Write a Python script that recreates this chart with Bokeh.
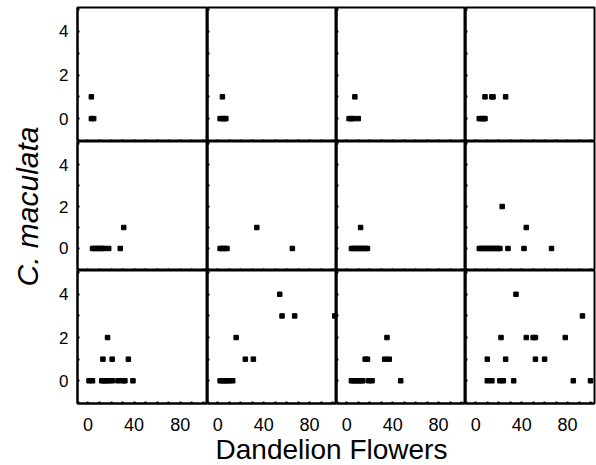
import math
from bokeh.plotting import figure
from bokeh.layouts import gridplot, row, column
from bokeh.models import FixedTicker, Label, Range1d
from bokeh.embed import file_html
from bokeh.resources import INLINE

# ---- axis ticks / labels ----
x_major_ticks = [0, 40, 80]
x_minor_ticks = [0, 10, 20, 30, 40, 50, 60, 70, 80, 90, 100]
y_major_ticks = [0, 2, 4]
y_minor_ticks = [-1, 0, 1, 2, 3, 4, 5]
x_title = "Dandelion Flowers"
y_title = "C. maculata"

# ---- data: dandelion flowers (x) vs C. maculata count (y), per panel ----
x_r0c0 = [3, 5, 3]
y_r0c0 = [0, 0, 1]
x_r0c1 = [2, 4, 6, 7, 4]
y_r0c1 = [0, 0, 0, 0, 1]
x_r0c2 = [2, 4, 6, 10, 7]
y_r0c2 = [0, 0, 0, 0, 1]
x_r0c3 = [3, 5, 7, 8, 8, 14, 15, 26]
y_r0c3 = [0, 0, 0, 0, 1, 1, 1, 1]

x_r1c0 = [4, 6, 8, 10, 12, 14, 18, 28, 31]
y_r1c0 = [0, 0, 0, 0, 0, 0, 0, 0, 1]
x_r1c1 = [2, 4, 6, 8, 65, 34]
y_r1c1 = [0, 0, 0, 0, 0, 1]
x_r1c2 = [4, 6, 8, 10, 12, 14, 16, 18, 12]
y_r1c2 = [0, 0, 0, 0, 0, 0, 0, 0, 1]
x_r1c3 = [3, 5, 7, 9, 11, 13, 15, 17, 19, 21, 28, 42, 66, 44, 23]
y_r1c3 = [0, 0, 0, 0, 0, 0, 0, 0, 0, 0, 0, 0, 0, 1, 2]

x_r2c0 = [1, 4, 12, 14, 16, 18, 21, 26, 30, 32, 39, 13, 21, 35, 17]
y_r2c0 = [0, 0, 0, 0, 0, 0, 0, 0, 0, 0, 0, 1, 1, 1, 2]
x_r2c1 = [2, 4, 6, 8, 10, 13, 24, 31, 16, 56, 67, 102, 54]
y_r2c1 = [0, 0, 0, 0, 0, 0, 1, 1, 2, 3, 3, 3, 4]
x_r2c2 = [4, 6, 8, 10, 12, 14, 19, 22, 47, 16, 18, 33, 37, 35]
y_r2c2 = [0, 0, 0, 0, 0, 0, 0, 0, 0, 1, 1, 1, 1, 2]
x_r2c3 = [10, 14, 21, 24, 33, 85, 100, 10, 26, 52, 60, 22, 44, 50, 52, 78, 93, 35]
y_r2c3 = [0, 0, 0, 0, 0, 0, 0, 1, 1, 1, 1, 2, 2, 2, 2, 2, 3, 4]

panels = [
    [(x_r0c0, y_r0c0), (x_r0c1, y_r0c1), (x_r0c2, y_r0c2), (x_r0c3, y_r0c3)],
    [(x_r1c0, y_r1c0), (x_r1c1, y_r1c1), (x_r1c2, y_r1c2), (x_r1c3, y_r1c3)],
    [(x_r2c0, y_r2c0), (x_r2c1, y_r2c1), (x_r2c2, y_r2c2), (x_r2c3, y_r2c3)],
]

FONT = "Liberation Sans"
frame_widths = [130, 129, 129, 129]
frame_heights = [134, 129, 133]
TOTAL_W, TOTAL_H = 596, 465
YLAB_W = 50
LEFT_BORDER = 27
TOP_BORDER = 7
BOTTOM_BORDER = 50
RIGHT_BORDER = 2
XLAB_TOP = 430


def style_axis(ax, show_labels, size, standoff):
    ax.axis_line_color = "black"
    ax.axis_line_width = 2
    ax.major_tick_in = 2
    ax.major_tick_out = 0
    ax.minor_tick_in = 2
    ax.minor_tick_out = 0
    ax.major_tick_line_color = "black"
    ax.minor_tick_line_color = "black"
    ax.major_tick_line_width = 2
    ax.minor_tick_line_width = 2
    ax.major_label_text_font = FONT
    ax.major_label_text_font_size = size
    ax.major_label_text_color = "black"
    ax.major_label_standoff = standoff if show_labels else 0


grid = []
for r in range(3):
    row_figs = []
    for c in range(4):
        xs, ys = panels[r][c]
        p = figure(
            frame_width=frame_widths[c],
            frame_height=frame_heights[r],
            x_range=Range1d(-9, 103.5),
            y_range=Range1d(-1.05, 5.1),
            output_backend="svg",
            toolbar_location=None,
            min_border=0,
        )
        p.min_border_left = LEFT_BORDER if c == 0 else 0
        p.min_border_right = RIGHT_BORDER if c == 3 else 0
        p.min_border_top = TOP_BORDER if r == 0 else 0
        p.min_border_bottom = BOTTOM_BORDER if r == 2 else 0
        p.xgrid.visible = False
        p.ygrid.visible = False
        p.outline_line_color = "black"
        p.outline_line_width = 2
        p.background_fill_color = "white"
        p.border_fill_color = "white"

        if r == 2:
            p.xaxis.ticker = FixedTicker(ticks=x_major_ticks,
                                         minor_ticks=[t for t in x_minor_ticks if t not in x_major_ticks])
        else:
            p.xaxis.ticker = FixedTicker(ticks=[], minor_ticks=x_minor_ticks)
        if c == 0:
            p.yaxis.ticker = FixedTicker(ticks=y_major_ticks,
                                         minor_ticks=[t for t in y_minor_ticks if t not in y_major_ticks])
        else:
            p.yaxis.ticker = FixedTicker(ticks=[], minor_ticks=y_minor_ticks)
        style_axis(p.xaxis[0], r == 2, "18px", 14)
        style_axis(p.yaxis[0], c == 0, "17px", 9)

        p.scatter(xs, ys, marker="square", size=4.5, color="black")
        row_figs.append(p)
    grid.append(row_figs)

gp = gridplot(grid, toolbar_location=None)

# y axis title panel
ylab = figure(width=YLAB_W, height=TOTAL_H, x_range=Range1d(0, YLAB_W), y_range=Range1d(0, TOTAL_H),
              output_backend="svg", toolbar_location=None, min_border=0,
              x_axis_location=None, y_axis_location=None)
ylab.outline_line_color = None
ylab.xgrid.visible = False
ylab.ygrid.visible = False
ylab.add_layout(Label(x=27, y=TOTAL_H - 206, text=y_title, angle=math.pi / 2,
                      text_font=FONT, text_font_size="30px", text_font_style="italic",
                      text_align="center", text_baseline="middle", text_color="black"))

# x axis title panel (pulled up into the empty bottom border of the grid)
grid_h = TOP_BORDER + sum(frame_heights) + BOTTOM_BORDER
xw = LEFT_BORDER + sum(frame_widths) + RIGHT_BORDER
xh = TOTAL_H - XLAB_TOP
xlab = figure(width=xw, height=xh, x_range=Range1d(0, xw), y_range=Range1d(0, xh),
              output_backend="svg", toolbar_location=None, min_border=0,
              x_axis_location=None, y_axis_location=None)
xlab.outline_line_color = None
xlab.background_fill_alpha = 0
xlab.border_fill_alpha = 0
xlab.xgrid.visible = False
xlab.ygrid.visible = False
xlab.styles = {"margin-top": f"-{grid_h - XLAB_TOP}px"}
xlab.add_layout(Label(x=331 - YLAB_W, y=TOTAL_H - 449, text=x_title, text_font=FONT,
                      text_font_size="28px", text_align="center", text_baseline="middle",
                      text_color="black"))

layout = row(ylab, column(gp, xlab))

open("out.html", "w").write(file_html(layout, INLINE))
